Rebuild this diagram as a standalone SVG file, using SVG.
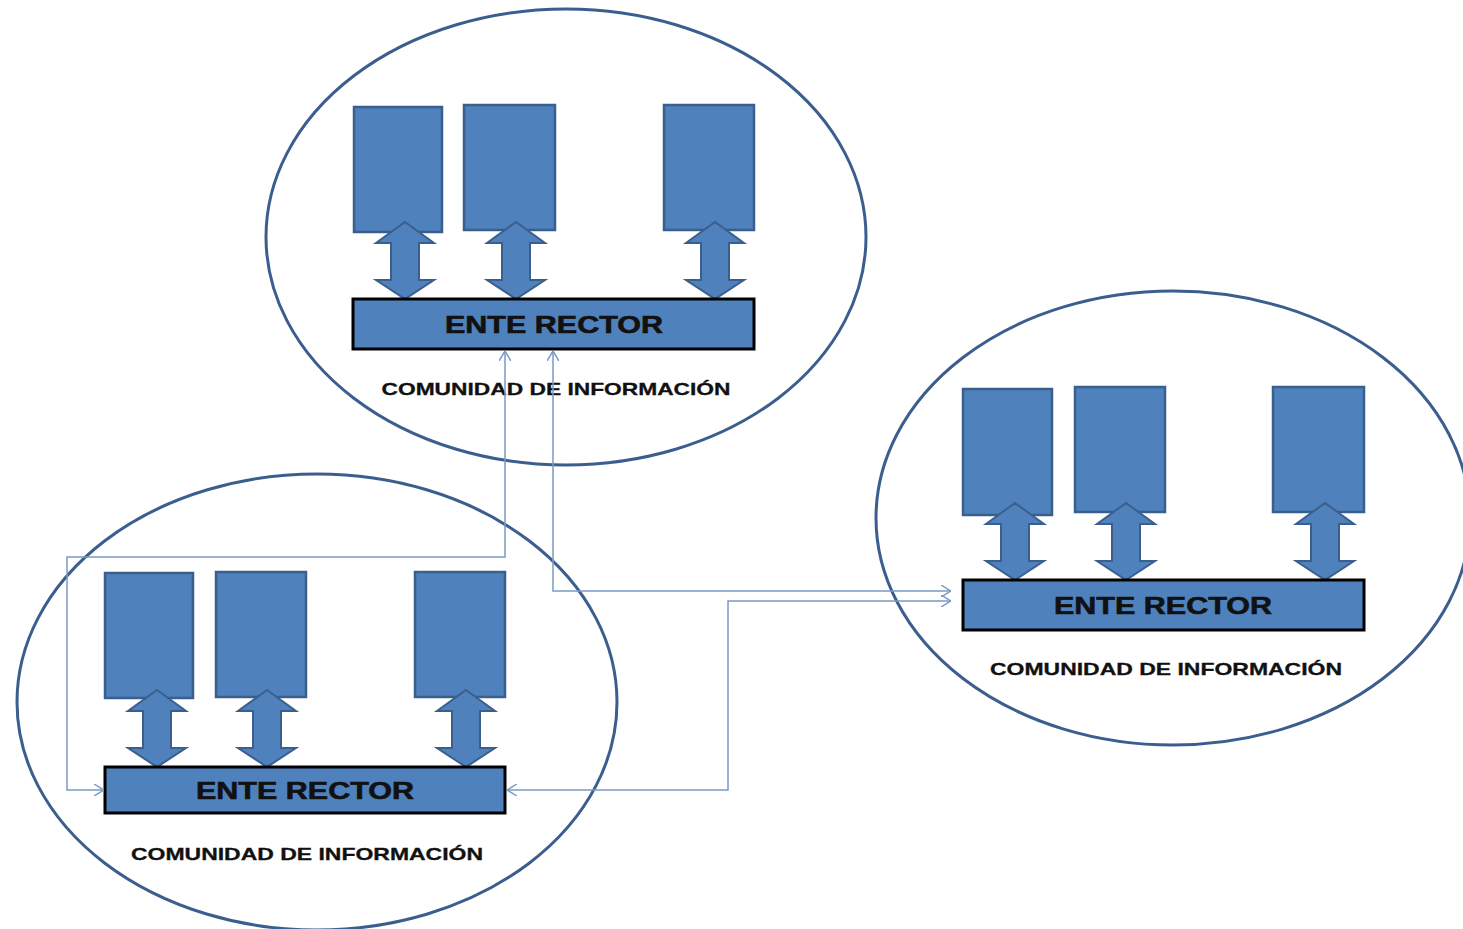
<svg xmlns="http://www.w3.org/2000/svg" width="1463" height="929" viewBox="0 0 1463 929">
  <defs>
    <style>
      .ring { fill: none; stroke: #3B5E8E; stroke-width: 3; }
      .unit { fill: #4F81BD; stroke: #3A5F8C; stroke-width: 2.5; }
      .dbl { fill: #4F81BD; stroke: #3A5F8C; stroke-width: 2; stroke-linejoin: miter; }
      .hub { fill: #4F81BD; stroke: #000; stroke-width: 3; }
      .hub-text { font-family: "Liberation Sans", Arial, sans-serif; font-weight: bold; font-size: 24px; fill: #111; stroke: #111; stroke-width: 0.6; text-anchor: middle; }
      .caption { font-family: "Liberation Sans", Arial, sans-serif; font-weight: bold; font-size: 17px; fill: #111; stroke: #111; stroke-width: 0.3; text-anchor: middle; }
      .link { fill: none; stroke: #7A9AC4; stroke-width: 1.5; marker-start: url(#chev); marker-end: url(#chev); }
    </style>
    <marker id="chev" viewBox="0 0 10 12" refX="10" refY="6" markerWidth="10" markerHeight="12" markerUnits="userSpaceOnUse" orient="auto-start-reverse">
      <path d="M0,0 L10,6 L0,12" fill="none" stroke="#7A9AC4" stroke-width="1.5"/>
    </marker>
    <!-- double-headed block arrow, tip at y=0 pointing down into the hub -->
    <path id="dblArrow" d="M0,-77 L29,-56 L14,-56 L14,-19 L29,-19 L0,0 L-29,-19 L-14,-19 L-14,-56 L-29,-56 Z"/>
  </defs>

  <rect width="1463" height="929" fill="#ffffff"/>

  <!-- community at the top -->
  <g id="community-top" transform="translate(353,299)">
    <ellipse class="ring" cx="213" cy="-62" rx="300" ry="228"/>
    <g id="top-unit-1"><rect class="unit" x="1" y="-192" width="88" height="125"/></g>
    <g id="top-unit-2"><rect class="unit" x="111" y="-194" width="91" height="125"/></g>
    <g id="top-unit-3"><rect class="unit" x="311" y="-194" width="90" height="125"/></g>
    <use href="#dblArrow" class="dbl" x="52"/>
    <use href="#dblArrow" class="dbl" x="163"/>
    <use href="#dblArrow" class="dbl" x="362"/>
    <g id="top-hub">
      <rect class="hub" x="0" y="0" width="401" height="50"/>
      <text class="hub-text" x="201" y="34" textLength="218" lengthAdjust="spacingAndGlyphs">ENTE RECTOR</text>
    </g>
    <text class="caption" x="203" y="96" textLength="349" lengthAdjust="spacingAndGlyphs">COMUNIDAD DE INFORMACIÓN</text>
  </g>

  <!-- community at the lower left -->
  <g id="community-left" transform="translate(105,767)">
    <ellipse class="ring" cx="212" cy="-65" rx="300" ry="228"/>
    <g id="left-unit-1"><rect class="unit" x="0" y="-194" width="88" height="125"/></g>
    <g id="left-unit-2"><rect class="unit" x="111" y="-195" width="90" height="125"/></g>
    <g id="left-unit-3"><rect class="unit" x="310" y="-195" width="90" height="125"/></g>
    <use href="#dblArrow" class="dbl" x="52"/>
    <use href="#dblArrow" class="dbl" x="162"/>
    <use href="#dblArrow" class="dbl" x="361"/>
    <g id="left-hub">
      <rect class="hub" x="0" y="0" width="400" height="46"/>
      <text class="hub-text" x="200" y="32" textLength="218" lengthAdjust="spacingAndGlyphs">ENTE RECTOR</text>
    </g>
    <text class="caption" x="202" y="93" textLength="352" lengthAdjust="spacingAndGlyphs">COMUNIDAD DE INFORMACIÓN</text>
  </g>

  <!-- community at the right -->
  <g id="community-right" transform="translate(963,580)">
    <ellipse class="ring" cx="210" cy="-62" rx="297" ry="227"/>
    <g id="right-unit-1"><rect class="unit" x="0" y="-191" width="89" height="126"/></g>
    <g id="right-unit-2"><rect class="unit" x="112" y="-193" width="90" height="125"/></g>
    <g id="right-unit-3"><rect class="unit" x="310" y="-193" width="91" height="125"/></g>
    <use href="#dblArrow" class="dbl" x="52"/>
    <use href="#dblArrow" class="dbl" x="163"/>
    <use href="#dblArrow" class="dbl" x="362"/>
    <g id="right-hub">
      <rect class="hub" x="0" y="0" width="401" height="50"/>
      <text class="hub-text" x="200" y="34" textLength="218" lengthAdjust="spacingAndGlyphs">ENTE RECTOR</text>
    </g>
    <text class="caption" x="203" y="95" textLength="352" lengthAdjust="spacingAndGlyphs">COMUNIDAD DE INFORMACIÓN</text>
  </g>

  <!-- links between the governing bodies -->
  <g id="connectors">
    <path class="link" d="M505,351 L505,557 L67,557 L67,790 L104,790"/>
    <path class="link" d="M553,351 L553,591 L951,591"/>
    <path class="link" d="M507,790 L728,790 L728,601 L951,601"/>
  </g>
</svg>
